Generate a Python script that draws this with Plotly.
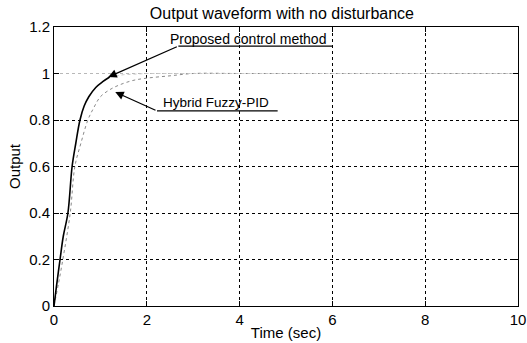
import plotly.graph_objects as go

# Proposed control method (solid)
proposed_t = [0, 0.05, 0.13, 0.2, 0.3, 0.39, 0.47, 0.56, 0.65, 0.75, 0.9, 1.05, 1.2, 1.5, 2.0, 2.5, 4, 6, 8, 10]
proposed_y = [0, 0.08, 0.2, 0.3, 0.4, 0.6, 0.7, 0.8, 0.86, 0.9, 0.94, 0.965, 0.985, 0.995, 1.0, 1.0, 1.0, 1.0, 1.0, 1.0]

# Hybrid Fuzzy-PID (dotted)
hybrid_t = [0, 0.1, 0.19, 0.35, 0.45, 0.58, 0.73, 0.85, 1.0, 1.2, 1.4, 1.7, 2.0, 2.5, 3, 4, 6, 8, 10]
hybrid_y = [0, 0.1, 0.2, 0.4, 0.6, 0.7, 0.8, 0.85, 0.9, 0.93, 0.95, 0.97, 0.98, 0.99, 1.0, 1.0, 1.0, 1.0, 1.0]

x_ticks = [0, 2, 4, 6, 8, 10]
y_ticks = [0, 0.2, 0.4, 0.6, 0.8, 1.0, 1.2]
y_tick_labels = ["0", "0.2", "0.4", "0.6", "0.8", "1", "1.2"]
y_grid_dark = [0.2, 0.4, 0.6, 0.8]
y_grid_faint = [1.0]

title = "Output waveform with no disturbance"
x_label = "Time (sec)"
y_label = "Output"
label_proposed = "Proposed control method"
label_hybrid = "Hybrid Fuzzy-PID"

FONT = "Liberation Sans, Arial, sans-serif"
SPLIT = 13  # rising part drawn solid black, settled part faded (as in the scan)

fig = go.Figure()
fig.add_trace(go.Scatter(x=hybrid_t, y=hybrid_y, mode="lines",
                         line=dict(color="#8a8a8a", width=1, dash="dot", shape="spline"),
                         showlegend=False))
fig.add_trace(go.Scatter(x=proposed_t[SPLIT - 1:], y=proposed_y[SPLIT - 1:], mode="lines",
                         line=dict(color="#c8c8c8", width=1, dash="dot"),
                         showlegend=False))
fig.add_trace(go.Scatter(x=proposed_t[:SPLIT], y=proposed_y[:SPLIT], mode="lines",
                         line=dict(color="black", width=1.6, shape="spline"),
                         showlegend=False))

# invisible traces to activate grid overlay axes
fig.add_trace(go.Scatter(x=[0], y=[0], yaxis="y2", mode="markers", marker=dict(opacity=0),
                         showlegend=False, hoverinfo="skip"))
fig.add_trace(go.Scatter(x=[0], y=[0], yaxis="y3", mode="markers", marker=dict(opacity=0),
                         showlegend=False, hoverinfo="skip"))

# underlines for the text arrows
fig.add_shape(type="line", x0=2.68, y0=1.118, x1=6.0, y1=1.118, line=dict(color="black", width=1.3))
fig.add_shape(type="line", x0=2.22, y0=0.839, x1=4.82, y1=0.839, line=dict(color="black", width=1.3))

# arrows
fig.add_annotation(x=1.17, y=0.985, ax=2.68, ay=1.118, axref="x", ayref="y", xref="x", yref="y",
                   showarrow=True, arrowhead=2, arrowsize=1.3, arrowwidth=1.3, arrowcolor="black", text="")
fig.add_annotation(x=1.32, y=0.92, ax=2.22, ay=0.839, axref="x", ayref="y", xref="x", yref="y",
                   showarrow=True, arrowhead=2, arrowsize=1.3, arrowwidth=1.3, arrowcolor="black", text="")

# texts
fig.add_annotation(x=4.19, y=1.150, xref="x", yref="y", text=label_proposed, showarrow=False,
                   font=dict(family=FONT, size=14, color="black"))
fig.add_annotation(x=3.50, y=0.875, xref="x", yref="y", text=label_hybrid, showarrow=False,
                   font=dict(family=FONT, size=13.5, color="black"))

fig.update_layout(
    width=527, height=343,
    margin=dict(l=54, r=9, t=27, b=37, autoexpand=False),
    paper_bgcolor="white", plot_bgcolor="white",
    font=dict(family=FONT, size=15, color="black"),
    title=dict(text=title, x=0.535, xanchor="center", y=0.962, yanchor="middle",
               font=dict(family=FONT, size=16, color="black")),
    xaxis=dict(range=[0, 10], tickvals=x_ticks, showline=True, linecolor="black", linewidth=1,
               mirror="ticks", ticks="inside", ticklen=5, tickcolor="black", automargin=False,
               showgrid=True, gridcolor="black", griddash="dot", gridwidth=1, zeroline=False,
               tickfont=dict(family=FONT, size=15),
               title=dict(text=x_label, standoff=0, font=dict(family=FONT, size=15))),
    yaxis=dict(range=[0, 1.2], tickvals=y_ticks, ticktext=y_tick_labels, showline=True,
               linecolor="black", linewidth=1, mirror="ticks", ticks="inside", ticklen=5,
               tickcolor="black", showgrid=False, zeroline=False, automargin=False,
               tickfont=dict(family=FONT, size=15),
               title=dict(text=y_label, standoff=4, font=dict(family=FONT, size=15))),
    yaxis2=dict(range=[0, 1.2], overlaying="y", tickvals=y_grid_dark, showticklabels=False,
                showgrid=True, gridcolor="black", griddash="dot", gridwidth=1, zeroline=False,
                showline=False, ticks=""),
    yaxis3=dict(range=[0, 1.2], overlaying="y", tickvals=y_grid_faint, showticklabels=False,
                showgrid=True, gridcolor="#b8b8b8", griddash="dot", gridwidth=1, zeroline=False,
                showline=False, ticks=""),
)

fig.write_html("out.html", config={"displayModeBar": False},
               post_script="document.body.style.margin='0';document.body.style.overflow='hidden';")
